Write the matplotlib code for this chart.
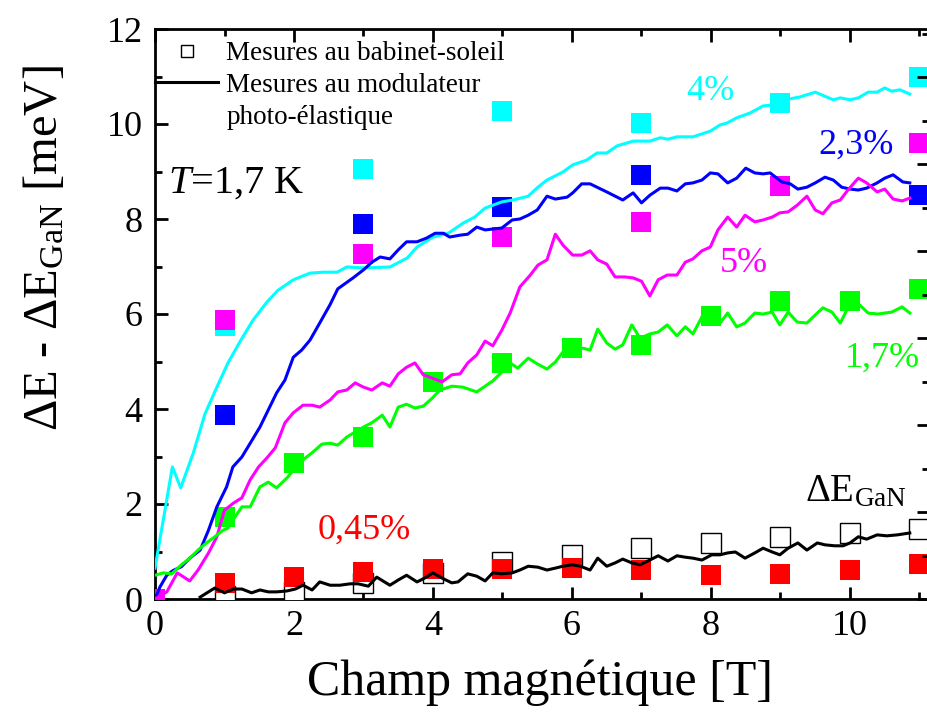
import matplotlib
matplotlib.use("Agg")
import matplotlib.pyplot as plt
from matplotlib.lines import Line2D
from matplotlib.ticker import MultipleLocator, NullFormatter

plt.rcParams['font.family'] = ['Liberation Serif', 'DejaVu Serif']
plt.rcParams['mathtext.fontset'] = 'custom'
plt.rcParams['mathtext.rm'] = 'Liberation Serif'
plt.rcParams['mathtext.it'] = 'Liberation Serif:italic'

# ---------------- data ----------------
# Squares (babinet-soleil, filled = samples)
field_sq = [1, 3, 5, 7, 9, 11]
cyan_sq = [5.75, 9.05, 10.27, 10.02, 10.44, 11.0]      # 4%
blue_sq = [3.87, 7.89, 8.25, 8.93, 8.70, 8.50]         # 2,3%
magenta_sq_x = [0, 1, 3, 5, 7, 9, 11]
magenta_sq = [0.0, 5.87, 7.26, 7.62, 7.94, 8.69, 9.60]  # 5%
field_all = [1, 2, 3, 4, 5, 6, 7, 8, 9, 10, 11]
green_sq = [1.73, 2.86, 3.41, 4.57, 4.97, 5.28, 5.35, 5.96, 6.27, 6.27, 6.53]  # 1,7%
red_sq = [0.34, 0.46, 0.57, 0.63, 0.63, 0.65, 0.61, 0.50, 0.52, 0.61, 0.73]    # 0,45%
gan_sq = [0.07, 0.15, 0.34, 0.55, 0.78, 0.93, 1.07, 1.18, 1.30, 1.39, 1.47]    # GaN open

# Lines (modulateur photo-elastique)
cyan_x = [0, 0.25, 0.37, 0.55, 0.72, 0.89, 1.05, 1.22, 1.41, 1.61, 1.77, 1.99, 2.23, 2.42, 2.62,
          2.76, 3.0, 3.38, 3.63, 3.77, 4.0, 4.22, 4.43, 4.6, 4.75, 4.99, 5.15, 5.37, 5.51, 5.64,
          5.87, 6.01, 6.21, 6.36, 6.5, 6.65, 6.88, 7.12, 7.27, 7.38, 7.51, 7.74, 7.99, 8.13, 8.23,
          8.37, 8.56, 8.75, 9.0, 9.14, 9.28, 9.5, 9.76, 9.86, 10.0, 10.12, 10.26, 10.39, 10.5,
          10.6, 10.72, 10.86]
cyan_y = [0.65, 2.78, 2.34, 3.07, 3.9, 4.46, 4.97, 5.41, 5.87, 6.25, 6.5, 6.72, 6.86, 6.88, 6.88,
          6.99, 6.97, 6.99, 7.18, 7.41, 7.62, 7.7, 7.91, 8.04, 8.23, 8.36, 8.4, 8.48, 8.67, 8.82,
          8.99, 9.14, 9.24, 9.39, 9.39, 9.54, 9.64, 9.64, 9.71, 9.68, 9.73, 9.73, 9.85, 9.98, 10.02,
          10.13, 10.23, 10.38, 10.42, 10.53, 10.57, 10.67, 10.51, 10.55, 10.51, 10.55, 10.67, 10.67,
          10.76, 10.69, 10.72, 10.63]

blue_x = [0, 0.07, 0.17, 0.26, 0.38, 0.5, 0.65, 0.77, 0.89, 1.03, 1.12, 1.25, 1.37, 1.51, 1.63,
          1.75, 1.87, 1.99, 2.11, 2.23, 2.37, 2.52, 2.63, 2.85, 3.0, 3.12, 3.24, 3.38, 3.5, 3.62,
          3.77, 3.91, 4.03, 4.15, 4.24, 4.39, 4.5, 4.63, 4.75, 4.99, 5.14, 5.25, 5.37, 5.5, 5.64,
          5.76, 5.93, 6.01, 6.14, 6.26, 6.5, 6.73, 6.88, 7.0, 7.12, 7.27, 7.38, 7.51, 7.63, 7.74,
          7.87, 7.99, 8.1, 8.24, 8.37, 8.5, 8.63, 8.75, 8.85, 9.02, 9.14, 9.25, 9.38, 9.5, 9.64,
          9.76, 9.88, 10.0, 10.12, 10.24, 10.39, 10.5, 10.62, 10.76, 10.86]
blue_y = [0.0, 0.25, 0.5, 0.6, 0.68, 0.86, 1.03, 1.45, 1.94, 2.36, 2.78, 2.99, 3.28, 3.62, 3.98,
          4.34, 4.61, 5.09, 5.24, 5.45, 5.81, 6.2, 6.53, 6.76, 6.93, 7.09, 7.2, 7.16, 7.35, 7.52,
          7.52, 7.6, 7.7, 7.7, 7.62, 7.66, 7.68, 7.83, 7.77, 7.81, 7.98, 8.0, 8.08, 8.19, 8.48,
          8.42, 8.46, 8.55, 8.74, 8.74, 8.57, 8.4, 8.55, 8.34, 8.5, 8.65, 8.65, 8.59, 8.74, 8.76,
          8.82, 8.97, 8.95, 8.76, 8.86, 9.07, 8.97, 8.95, 8.97, 8.78, 8.74, 8.63, 8.67, 8.76, 8.88,
          8.82, 8.67, 8.63, 8.61, 8.65, 8.76, 8.86, 8.93, 8.78, 8.76]

magenta_x = [0, 0.17, 0.32, 0.5, 0.62, 0.77, 0.89, 1.0, 1.13, 1.25, 1.37, 1.49, 1.61, 1.73, 1.87,
             1.99, 2.13, 2.26, 2.37, 2.52, 2.63, 2.76, 2.88, 3.0, 3.12, 3.27, 3.38, 3.5, 3.62,
             3.74, 3.86, 3.99, 4.13, 4.27, 4.39, 4.5, 4.63, 4.75, 4.86, 4.99, 5.11, 5.25, 5.4,
             5.51, 5.64, 5.76, 5.87, 6.01, 6.14, 6.26, 6.37, 6.5, 6.62, 6.76, 6.88, 7.0, 7.12,
             7.24, 7.37, 7.51, 7.63, 7.74, 7.87, 7.99, 8.1, 8.24, 8.37, 8.49, 8.63, 8.75, 8.88,
             8.99, 9.11, 9.24, 9.38, 9.5, 9.61, 9.74, 9.86, 9.97, 10.12, 10.24, 10.39, 10.5, 10.62,
             10.75, 10.86]
magenta_y = [0.0, 0.15, 0.55, 0.38, 0.61, 0.97, 1.31, 1.87, 2.02, 2.13, 2.51, 2.78, 2.97, 3.18, 3.71,
             3.92, 4.08, 4.08, 4.04, 4.19, 4.36, 4.4, 4.55, 4.46, 4.4, 4.55, 4.48, 4.74, 4.88,
             4.97, 4.72, 4.65, 4.57, 4.72, 4.74, 4.97, 5.14, 5.43, 5.33, 5.66, 6.02, 6.57, 6.82,
             7.03, 7.14, 7.68, 7.45, 7.24, 7.24, 7.33, 7.14, 7.05, 6.78, 6.78, 6.76, 6.69, 6.38,
             6.72, 6.82, 6.82, 7.09, 7.16, 7.33, 7.41, 7.77, 8.04, 7.83, 8.08, 7.94, 7.98, 8.04,
             8.13, 8.15, 8.29, 8.48, 8.19, 8.11, 8.34, 8.4, 8.61, 8.86, 8.76, 8.57, 8.63, 8.42,
             8.38, 8.44]

green_x = [0, 0.12, 0.24, 0.38, 0.5, 0.62, 0.74, 0.86, 0.98, 1.05, 1.12, 1.25, 1.37, 1.51, 1.63,
           1.75, 1.9, 2.02, 2.13, 2.27, 2.4, 2.52, 2.63, 2.76, 3.0, 3.12, 3.27, 3.38, 3.5, 3.62,
           3.74, 3.86, 3.99, 4.1, 4.27, 4.43, 4.63, 4.86, 4.99, 5.11, 5.22, 5.37, 5.5, 5.64, 5.76,
           5.87, 6.0, 6.16, 6.26, 6.37, 6.5, 6.62, 6.73, 6.86, 6.98, 7.12, 7.24, 7.37, 7.51, 7.63,
           7.74, 7.87, 7.99, 8.13, 8.24, 8.37, 8.49, 8.63, 8.75, 8.88, 8.99, 9.11, 9.24, 9.38,
           9.5, 9.61, 9.74, 9.86, 9.97, 10.14, 10.26, 10.4, 10.6, 10.75, 10.86]
green_y = [0.5, 0.55, 0.53, 0.72, 0.86, 1.03, 1.18, 1.31, 1.45, 1.49, 1.66, 1.94, 1.94, 2.36, 2.46,
           2.34, 2.55, 2.76, 2.93, 3.09, 3.26, 3.28, 3.24, 3.41, 3.62, 3.71, 3.87, 3.62, 4.04, 4.1,
           4.02, 4.06, 4.23, 4.4, 4.48, 4.46, 4.36, 4.59, 4.78, 4.97, 4.86, 5.07, 4.95, 4.84, 4.99,
           5.2, 5.24, 5.28, 5.24, 5.68, 5.39, 5.26, 5.35, 5.77, 5.49, 5.58, 5.62, 5.77, 5.54, 5.73,
           5.58, 5.94, 6.02, 5.81, 6.02, 5.73, 5.81, 6.02, 6.0, 6.04, 5.77, 6.04, 5.83, 5.81,
           5.98, 6.13, 6.04, 5.81, 6.13, 6.19, 6.02, 6.0, 6.04, 6.15, 6.02]

gan_x = [0.65, 0.77, 0.86, 1.0, 1.13, 1.25, 1.39, 1.51, 1.63, 1.75, 1.9, 2.02, 2.13, 2.26, 2.37,
         2.52, 2.66, 2.81, 2.92, 3.07, 3.19, 3.38, 3.5, 3.62, 3.77, 3.88, 4.0, 4.13, 4.27, 4.36,
         4.5, 4.63, 4.75, 4.86, 4.99, 5.14, 5.25, 5.37, 5.51, 5.64, 5.76, 5.87, 6.0, 6.12, 6.26,
         6.37, 6.5, 6.62, 6.73, 6.86, 6.98, 7.12, 7.24, 7.38, 7.51, 7.63, 7.74, 7.87, 8.01, 8.13,
         8.24, 8.35, 8.49, 8.63, 8.75, 8.88, 8.99, 9.11, 9.25, 9.38, 9.53, 9.64, 9.78, 9.9, 10.0,
         10.12, 10.24, 10.39, 10.53, 10.68, 10.86]
gan_y = [0.04, 0.15, 0.23, 0.13, 0.21, 0.21, 0.13, 0.19, 0.15, 0.15, 0.17, 0.21, 0.29, 0.19, 0.36,
         0.29, 0.29, 0.32, 0.32, 0.27, 0.46, 0.29, 0.4, 0.5, 0.36, 0.44, 0.55, 0.44, 0.34, 0.36,
         0.53, 0.48, 0.38, 0.55, 0.53, 0.55, 0.61, 0.69, 0.67, 0.61, 0.65, 0.69, 0.72, 0.69, 0.61,
         0.86, 0.69, 0.76, 0.84, 0.76, 0.72, 0.82, 0.91, 0.8, 0.91, 0.88, 0.86, 0.82, 0.93, 0.93,
         0.97, 0.99, 0.86, 0.97, 1.07, 0.99, 0.93, 1.07, 1.18, 1.03, 1.18, 1.14, 1.12, 1.12, 1.18,
         1.31, 1.26, 1.35, 1.33, 1.35, 1.39]

xlabel = "Champ magnétique [T]"
ylabel = r"ΔE - ΔE$_{\rm GaN}$ [meV]"
legend_labels = ["Mesures au babinet-soleil", "Mesures au modulateur", "photo-élastique"]

CYAN, BLUE, MAG, GREEN, RED = "#00FFFF", "#0000FF", "#FF00FF", "#00FF00", "#FF0000"

# ---------------- figure ----------------
W, H = 928, 715
fig = plt.figure(figsize=(W / 100, H / 100), dpi=100)
left, right, bottom, top = 155, 929, 599, 29
ax = fig.add_axes([left / W, 1 - bottom / H, (right - left) / W, (bottom - top) / H])
ax.set_xlim(0, (right - left) / 69.5)
ax.set_ylim(0, 12)

ms = 15
sq_kw = dict(linestyle="none", marker="s", markersize=ms, markeredgewidth=0, zorder=3)
ax.plot(field_all, gan_sq, linestyle="none", marker="s", markersize=ms, markerfacecolor="white",
        markeredgecolor="black", markeredgewidth=1.0, zorder=3)
ax.plot(field_sq, cyan_sq, color=CYAN, **sq_kw)
ax.plot(field_sq, blue_sq, color=BLUE, **sq_kw)
ax.plot(magenta_sq_x, magenta_sq, color=MAG, **sq_kw)
ax.plot(field_all, green_sq, color=GREEN, **sq_kw)
ax.plot(field_all, red_sq, color=RED, **sq_kw)

lw = 2.2
ax.plot(cyan_x, cyan_y, color=CYAN, lw=lw, zorder=4)
ax.plot(blue_x, blue_y, color=BLUE, lw=lw, zorder=4)
ax.plot(magenta_x, magenta_y, color=MAG, lw=lw, zorder=4)
ax.plot(green_x, green_y, color=GREEN, lw=lw, zorder=4)
ax.plot(gan_x, gan_y, color="black", lw=lw, zorder=4)

# axes styling
for s in ax.spines.values():
    s.set_linewidth(2.0)
ax.xaxis.set_major_locator(MultipleLocator(2))
ax.xaxis.set_minor_locator(MultipleLocator(1))
ax.yaxis.set_major_locator(MultipleLocator(2))
ax.yaxis.set_minor_locator(MultipleLocator(1))
ax.tick_params(which="both", direction="in", top=True, right=False, width=2.0, labelsize=26)
ax.tick_params(which="major", length=9)
ax.tick_params(which="minor", length=5)
ax.tick_params(axis="x", pad=8)
ax.tick_params(axis="y", pad=9)

# right-hand axis ticks (labels cut off in original)
ax2 = ax.twinx()
ax2.set_ylim(0, (bottom - top) / 87.0)
ax2.yaxis.set_major_locator(MultipleLocator(1))
ax2.yaxis.set_minor_locator(MultipleLocator(0.5))
ax2.yaxis.set_major_formatter(NullFormatter())
ax2.tick_params(which="both", direction="in", width=2.0)
ax2.tick_params(which="major", length=9)
ax2.tick_params(which="minor", length=5)
for s in ax2.spines.values():
    s.set_visible(False)

# labels
fig.text(540 / W, 1 - 683 / H, xlabel, fontsize=36, ha="center", va="center")
fig.text(45 / W, 1 - 248 / H, ylabel, fontsize=35, ha="center", va="center", rotation=90)


def atext(px, py, s, color, size=26, ha="left"):
    ax.text(px / W, 1 - py / H, s, transform=fig.transFigure, color=color, fontsize=size,
            ha=ha, va="center")


atext(168, 183, r"$T$=1,7 K", "black", size=29)
atext(686, 92, "4%", CYAN)
atext(818, 145, "2,3%", BLUE)
atext(720, 263, "5%", MAG)
atext(845, 358, "1,7%", GREEN)
atext(318, 530, "0,45%", RED)
atext(805, 492, r"ΔE$_{\rm GaN}$", "black", size=28)

# legend
handles = [Line2D([], [], linestyle="none", marker="s", markersize=9, markerfacecolor="white",
                  markeredgecolor="black", markeredgewidth=1.0),
           Line2D([], [], color="black", lw=2.2),
           Line2D([], [], linestyle="none")]
leg = ax.legend(handles, legend_labels, loc="upper left",
                bbox_to_anchor=(left / W, 1 - 41 / H), bbox_transform=fig.transFigure,
                frameon=False, fontsize=19.5, borderpad=0, borderaxespad=0,
                handlelength=2.33, handletextpad=0.3, labelspacing=0.25)

fig.savefig("out.png", dpi=100)
